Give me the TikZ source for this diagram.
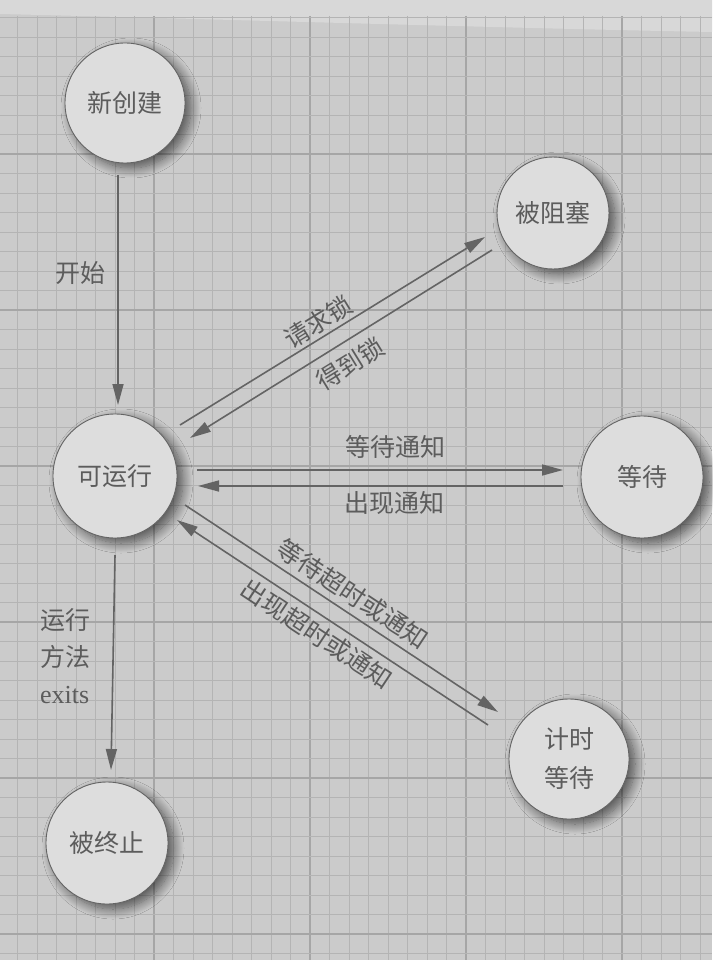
\documentclass[tikz,border=0pt]{standalone}
\usepackage{fontspec}
\setmainfont{Liberation Serif}
\newfontfamily\cjk{Noto Sans CJK SC}
\usetikzlibrary{shadows.blur,arrows.meta}
\definecolor{paper}{RGB}{203,203,203}
\definecolor{paperlight}{RGB}{216,216,216}
\definecolor{gridminor}{RGB}{180,180,180}
\definecolor{gridmajor}{RGB}{166,166,166}
\definecolor{circfill}{RGB}{221,221,221}
\definecolor{circline}{RGB}{100,100,100}
\definecolor{arrcol}{RGB}{100,100,100}
\definecolor{txt}{RGB}{92,92,92}
\begin{document}
\begin{tikzpicture}[x=1pt,y=-1pt,
  state/.style={circle, draw=circline, line width=0.9pt, fill=circfill, inner sep=0pt,
    font=\cjk\fontsize{25}{39}\selectfont, text=txt, align=center,
    blur shadow={shadow xshift=6pt, shadow yshift=-5pt, shadow scale=1.0,
      shadow blur radius=10pt, shadow blur steps=14, shadow opacity=60}},
  arr/.style={draw=arrcol, line width=1.6pt, -{Triangle[length=21pt,width=11pt]}},
  lab/.style={font=\cjk\fontsize{25}{37}\selectfont, text=txt, inner sep=0pt},
  gmin/.style={draw=gridminor, line width=0.8pt},
  gmaj/.style={draw=gridmajor, line width=1.2pt}]
\useasboundingbox (0,0) rectangle (712,960);
\fill[paper] (0,0) rectangle (712,960);
\fill[paperlight] (0,0) -- (712,0) -- (712,32) .. controls (500,28) and (250,20) .. (0,14) -- cycle;
% grid
\foreach \i in {0,...,35} {
  \pgfmathsetmacro{\xx}{17.5+19.5*\i}
  \pgfmathtruncatemacro{\mm}{mod(\i,8)}
  \ifnum\mm=7 \draw[gmaj] (\xx,16) -- (\xx,960); \else \draw[gmin] (\xx,16) -- (\xx,960); \fi
}
\foreach \j in {0,...,48} {
  \pgfmathsetmacro{\yy}{17.5+19.5*\j}
  \pgfmathtruncatemacro{\mm}{mod(\j,8)}
  \ifnum\mm=7 \draw[gmaj] (0,\yy) -- (712,\yy); \else \draw[gmin] (0,\yy) -- (712,\yy); \fi
}
% states
\node[state, minimum size=120pt] (new) at (125,103) {新创建};
\node[state, minimum size=112pt] (blk) at (553,213) {被阻塞};
\node[state, minimum size=124pt] (run) at (115,476) {可运行};
\node[state, minimum size=122pt] (wait) at (642,477) {等待};
\node[state, minimum size=120pt] (timed) at (569,759) {计时\\等待};
\node[state, minimum size=122pt] (term) at (107,843) {被终止};
% connectors
\draw[arr] ([shift={(-7,72)}]new.center) -- ([shift={(3,-71)}]run.center);
\draw[arr] ([shift={(65,-51)}]run.center) -- ([shift={(-68,24)}]blk.center);
\draw[arr] ([shift={(-61,37)}]blk.center) -- ([shift={(75,-38)}]run.center);
\draw[arr] ([shift={(82,-6)}]run.center) -- ([shift={(-79,-7)}]wait.center);
\draw[arr] ([shift={(-79,9)}]wait.center) -- ([shift={(83,10)}]run.center);
\draw[arr] ([shift={(70,29)}]run.center) -- ([shift={(-71,-47)}]timed.center);
\draw[arr] ([shift={(-81,-34)}]timed.center) -- ([shift={(62,44)}]run.center);
\draw[arr] ([shift={(0,79)}]run.center) -- ([shift={(4,-73)}]term.center);
% labels
\node[lab] (lstart) at (80,273) {开始};
\node[lab, rotate=31.6] (lreq) at (318,322) {请求锁};
\node[lab, rotate=31.6] (lget) at (350,364) {得到锁};
\node[lab] (lwn) at (395,447) {等待通知};
\node[lab] (lnt) at (394,503) {出现通知};
\node[lab, rotate=-33.5] (lwt) at (353,594) {等待超时或通知};
\node[lab, rotate=-33.5] (lto) at (317,634) {出现超时或通知};
\node[lab, align=left, anchor=north west] (lexit) at (40,608) {运行\\方法\\{\rmfamily\fontsize{26}{37}\selectfont exits}};
\end{tikzpicture}
\end{document}
